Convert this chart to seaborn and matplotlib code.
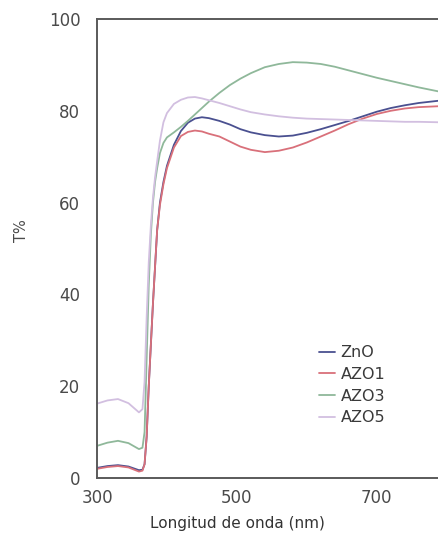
import matplotlib
matplotlib.use("Agg")
import matplotlib.pyplot as plt
import seaborn as sns
import pandas as pd

wavelength = [300, 315, 330, 345, 360, 365, 368, 371, 374, 377, 380, 383, 386, 390, 395,
              400, 410, 420, 430, 440, 450, 460, 475, 490, 505, 520, 540, 560, 580, 600,
              620, 640, 660, 680, 700, 720, 740, 760, 789]
zno = [2.2, 2.6, 2.8, 2.5, 1.7, 1.8, 3, 9, 20, 29, 38, 46, 54, 60, 64.5,
       68, 72.6, 75.6, 77.4, 78.3, 78.6, 78.4, 77.8, 77, 76, 75.3, 74.7, 74.4, 74.6, 75.2,
       76, 76.9, 77.8, 78.8, 79.8, 80.6, 81.2, 81.7, 82.2]
azo1 = [2.0, 2.4, 2.6, 2.3, 1.4, 1.6, 3, 9, 20, 29, 38, 46, 54, 59.5, 64,
        67.5, 72, 74.5, 75.4, 75.7, 75.5, 75, 74.4, 73.3, 72.2, 71.5, 71, 71.3, 72, 73.1,
        74.4, 75.7, 77.1, 78.3, 79.3, 80, 80.5, 80.8, 81]
azo3 = [7.0, 7.7, 8.1, 7.6, 6.3, 6.6, 10, 26, 42, 53, 60, 64.5, 67.5, 70.8, 73,
        74.2, 75.3, 76.5, 77.8, 79.2, 80.6, 82, 83.9, 85.6, 87, 88.2, 89.5, 90.2, 90.6, 90.5,
        90.2, 89.6, 88.8, 88, 87.2, 86.5, 85.8, 85.1, 84.2]
azo5 = [16.2, 16.9, 17.2, 16.3, 14.3, 15, 21, 35, 47, 55, 61, 65.5, 69, 73.5, 77.5,
        79.5, 81.5, 82.4, 82.9, 83, 82.7, 82.3, 81.7, 81, 80.3, 79.7, 79.2, 78.8, 78.5, 78.3,
        78.2, 78.1, 78, 77.9, 77.8, 77.7, 77.6, 77.6, 77.5]

series_names = ["ZnO", "AZO1", "AZO3", "AZO5"]
x_ticks = [300, 500, 700]
y_ticks = [0, 20, 40, 60, 80, 100]

rows = []
for name, vals in zip(series_names, [zno, azo1, azo3, azo5]):
    for w, v in zip(wavelength, vals):
        rows.append({"wl": w, "T": v, "serie": name})
df = pd.DataFrame(rows)

sns.set_style("white")
plt.rcParams["font.family"] = ["DejaVu Sans"]

palette = {"ZnO": "#4a5090", "AZO1": "#d9707a", "AZO3": "#8fb89a", "AZO5": "#d2bfe0"}

fig = plt.figure(figsize=(4.39, 5.33), dpi=100)
ax = fig.add_axes([97 / 439, 1 - 478 / 533, 1 - 97 / 439, (478 - 19) / 533])
sns.lineplot(data=df, x="wl", y="T", hue="serie", palette=palette, ax=ax,
             linewidth=1.3, sort=False, legend=True)

ax.set_xlim(300, 789)
ax.set_ylim(0, 100)
ax.set_xticks(x_ticks)
ax.set_yticks(y_ticks)
txtc = "#4a4a4a"
ax.tick_params(axis="both", direction="out", width=1.2, colors="#555555",
               labelsize=12, labelcolor=txtc)
ax.tick_params(axis="y", length=8, pad=4)
ax.tick_params(axis="x", length=4, pad=4)
for s in ["left", "bottom", "top"]:
    ax.spines[s].set_color("#5a5a5a")
    ax.spines[s].set_linewidth(1.4)
ax.spines["right"].set_visible(False)

ax.set_xlabel("Longitud de onda (nm)", fontsize=11, color="#333333")
ax.xaxis.set_label_coords(0.41, -0.082)
ax.set_ylabel("T%", fontsize=10.5, color=txtc)
ax.yaxis.set_label_coords(-0.2, 0.54)

leg = ax.legend(loc="upper left", bbox_to_anchor=(0.63, 0.303), frameon=False,
                fontsize=11.5, handlelength=1.0, handletextpad=0.35, labelspacing=0.42,
                borderaxespad=0)
for t in leg.get_texts():
    t.set_color("#3a3a3a")
for l in leg.get_lines():
    l.set_linewidth(1.3)

fig.savefig("out.png", dpi=100)
